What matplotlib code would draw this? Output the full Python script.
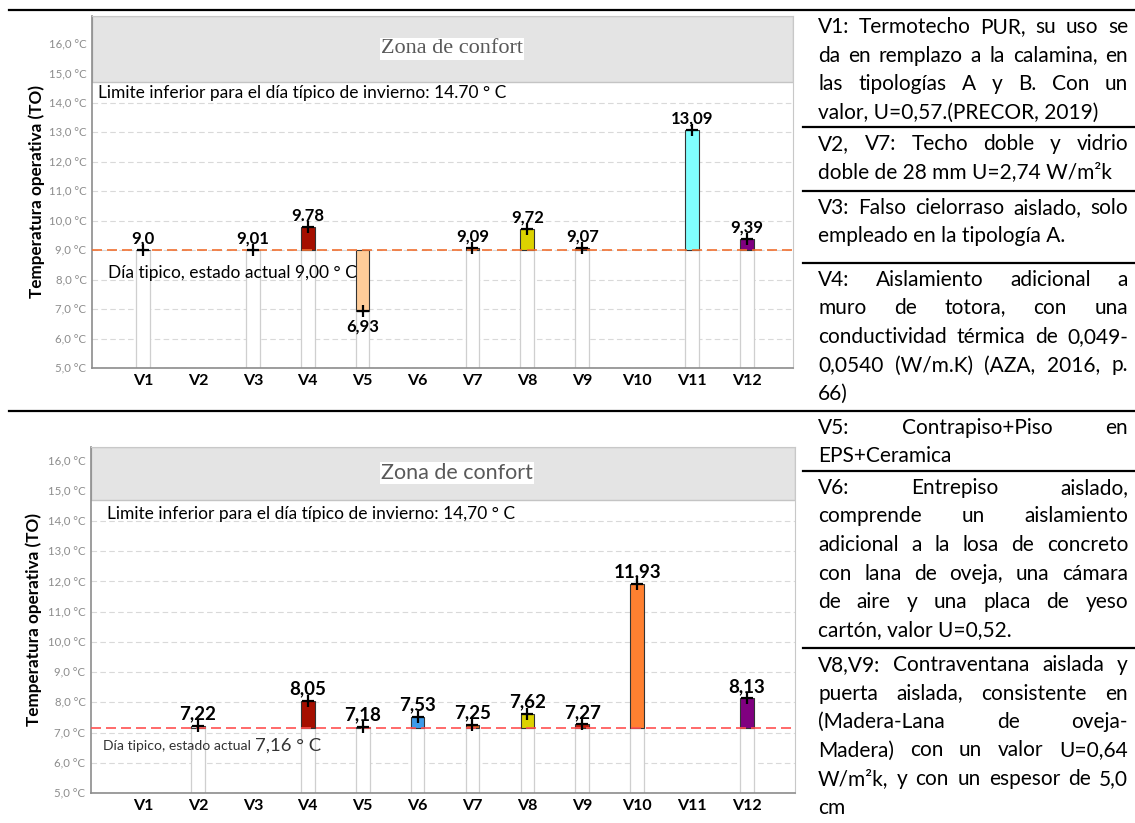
import numpy as np
import matplotlib
matplotlib.use("Agg")
import matplotlib.pyplot as plt
from matplotlib.lines import Line2D
from matplotlib.ticker import FuncFormatter
import matplotlib.transforms as mtransforms

plt.rcParams['font.family'] = ['Lato', 'DejaVu Sans']

W, H = 1135, 823
nan = np.nan

# data
cats = ['V1', 'V2', 'V3', 'V4', 'V5', 'V6', 'V7', 'V8', 'V9', 'V10', 'V11', 'V12']
top_vals = [9.0, nan, 9.01, 9.78, 6.93, nan, 9.09, 9.72, 9.07, nan, 13.09, 9.39]
top_text = ['9,0', '', '9,01', '9.78', '6,93', '', '9,09', '9,72', '9,07', '', '13,09', '9,39']
top_base = 9.0
bot_vals = [nan, 7.22, nan, 8.05, 7.18, 7.53, 7.25, 7.62, 7.27, 11.93, nan, 8.13]
bot_text = ['', '7,22', '', '8,05', '7,18', '7,53', '7,25', '7,62', '7,27', '11,93', '', '8,13']
bot_base = 7.16
comfort = 14.7
yticks = list(range(5, 17))

top_colors = ['#ffffff', 'none', '#ffffff', '#a50f00', '#ffcc99', 'none', '#e0601a',
              '#dcd200', '#b83010', 'none', '#80ffff', '#800080']
bot_colors = ['none', '#ffffff', 'none', '#a50f00', '#ffffff', '#3d9be9', '#d06020',
              '#dcd200', '#c02010', '#ff8030', 'none', '#800080']

notes = [
    ["V1: Termotecho PUR, su uso se", "da en remplazo a la calamina, en",
     "las tipologías A y B. Con un", "valor, U=0,57.(PRECOR, 2019)"],
    ["V2, V7: Techo doble y vidrio", "doble de 28 mm U=2,74 W/m²k"],
    ["V3: Falso cielorraso aislado, solo", "empleado en la tipología A."],
    ["V4: Aislamiento adicional a", "muro de totora, con una",
     "conductividad térmica de 0,049-", "0,0540 (W/m.K) (AZA, 2016, p.", "66)"],
    ["V5: Contrapiso+Piso en", "EPS+Ceramica"],
    ["V6: Entrepiso aislado,", "comprende un aislamiento",
     "adicional a la losa de concreto", "con lana de oveja, una cámara",
     "de aire y una placa de yeso", "cartón, valor U=0,52."],
    ["V8,V9: Contraventana aislada y", "puerta aislada, consistente en",
     "(Madera-Lana de oveja-", "Madera) con un valor U=0,64",
     "W/m²k, y con un espesor de 5,0", "cm"],
]
rules = [10, 127, 191, 263, 411, 471, 648]


def px_axes(x0, y0, x1, y1):
    return fig.add_axes([x0 / W, 1 - y1 / H, (x1 - x0) / W, (y1 - y0) / H])


def draw_chart(ax, vals, texts, colors, base, ylim, xlim, line_color, lab_size):
    x = np.arange(len(cats))
    v = np.array(vals)
    ok = ~np.isnan(v)
    ax.axhspan(comfort, ylim[1], facecolor='#e4e4e4', edgecolor='#c4c4c4', lw=1, zorder=1)
    low = np.minimum(v[ok], base)
    ax.bar(x[ok], low - ylim[0], bottom=ylim[0], width=0.25, color='white',
           edgecolor='#cfcfcf', lw=0.9, zorder=2)
    ax.bar(x[ok], v[ok] - base, bottom=base, width=0.25,
           color=[c for c, o in zip(colors, ok) if o], edgecolor='#333333', lw=0.8, zorder=3)
    ax.axhline(base, color=line_color, ls=(0, (6, 3)), lw=1.2, zorder=4)
    ax.plot(x[ok], v[ok], ls='none', marker='+', ms=8, mew=1.6, color='black', zorder=5)
    for xi, vi, t in zip(x, v, texts):
        if np.isnan(vi):
            continue
        if vi < base:
            ax.annotate(t, (xi, vi), xytext=(0, -5), textcoords='offset points',
                        ha='center', va='top', fontsize=lab_size, fontweight='bold', zorder=6)
        else:
            ax.annotate(t, (xi, vi), xytext=(0, 2.5), textcoords='offset points',
                        ha='center', va='bottom', fontsize=lab_size, fontweight='bold', zorder=6)
    ax.set_xlim(*xlim)
    ax.set_ylim(*ylim)
    ax.set_xticks(x)
    ax.set_xticklabels(cats, fontsize=11.5, fontweight='bold')
    ax.set_yticks([t for t in yticks if ylim[0] <= t <= ylim[1]])
    ax.yaxis.set_major_formatter(FuncFormatter(lambda t, p: f"{t:.1f}".replace('.', ',') + " °C"))
    ax.tick_params(axis='y', length=0, labelsize=8.2, labelcolor='#8c8c8c', pad=4)
    ax.tick_params(axis='x', length=0, pad=4)
    ax.grid(axis='y', color='#d9d9d9', ls=(0, (5, 3)), lw=0.8)
    ax.set_axisbelow(True)
    for s in ['left', 'bottom']:
        ax.spines[s].set_color('#8c8c8c')
        ax.spines[s].set_linewidth(1.2)
    for s in ['top', 'right']:
        ax.spines[s].set_color('#c8c8c8')
    ax.set_ylabel("Temperatura operativa (TO)", fontsize=12.3, fontweight='bold')


fig = plt.figure(figsize=(W / 100, H / 100), dpi=100)

ax1 = px_axes(92, 16, 793, 368)
draw_chart(ax1, top_vals, top_text, top_colors, top_base, (5.0, 16.95), (-0.93, 11.84),
           '#f07030', 12)
ax1.yaxis.set_label_coords(-0.067, 0.5)
tr1 = mtransforms.blended_transform_factory(ax1.transAxes, ax1.transData)
ax1.text(0.009, 14.33, "Limite inferior para el día típico de invierno: 14.70 ° C",
         transform=tr1, fontsize=12.5, va='center', zorder=6)
ax1.text(0.023, 8.22, "Día tipico, estado actual 9,00 ° C",
         transform=tr1, fontsize=12.5, va='center', zorder=6)
ax1.text(0.5136, 15.83, "Zona de confort", transform=tr1, family='Liberation Serif',
         fontsize=16, color='#595959', ha='center', va='center', zorder=6,
         bbox=dict(boxstyle='square,pad=0.05', fc='white', ec='none'))

ax2 = px_axes(91, 447, 795, 793)
draw_chart(ax2, bot_vals, bot_text, bot_colors, bot_base, (5.0, 16.45), (-0.947, 11.874),
           '#ff5050', 13.5)
ax2.yaxis.set_label_coords(-0.0696, 0.5)
tr2 = mtransforms.blended_transform_factory(ax2.transAxes, ax2.transData)
ax2.text(0.0227, 14.24, "Limite inferior para el día típico de invierno: 14,70 ° C",
         transform=tr2, fontsize=12.5, va='center', zorder=6)
t1 = ax2.text(0.017, 6.56, "Día tipico, estado actual", transform=tr2,
              fontsize=10.1, color='#333333', va='center', zorder=6)
ax2.annotate("7,16 ° C", xy=(1, 0.5), xycoords=t1, xytext=(3, 0), textcoords='offset points',
             fontsize=13.3, color='#333333', va='center', zorder=6)
ax2.text(0.52, 15.6, "Zona de confort", transform=tr2, fontsize=15.5, color='#595959',
         ha='center', va='center', zorder=6,
         bbox=dict(boxstyle='square,pad=0.05', fc='white', ec='none'))

# table rules
for y in rules:
    x0 = 9 if y in (10, 411) else 803
    fig.add_artist(Line2D([x0 / W, 1], [1 - y / H, 1 - y / H], color='black', lw=1.6))

# justified notes column
renderer = fig.canvas.get_renderer()
tx0, tx1, step = 818, 1128, 28.5


def width_of(s, size):
    t = fig.text(0, 0, s, fontsize=size)
    w = t.get_window_extent(renderer).width
    t.remove()
    return w


size = 15
widest = max(width_of(l, size) for para in notes for l in para[:-1])
if widest > tx1 - tx0:
    size = size * (tx1 - tx0) / widest * 0.99

for para, r in zip(notes, rules):
    for i, line in enumerate(para):
        y = 1 - (r + 17 + i * step) / H
        words = line.split()
        if i == len(para) - 1 or len(words) == 1:
            fig.text(tx0 / W, y, line, fontsize=size, va='center')
            continue
        arts = [fig.text(0, y, w, fontsize=size, va='center') for w in words]
        ws = [a.get_window_extent(renderer).width for a in arts]
        gap = (tx1 - tx0 - sum(ws)) / (len(words) - 1)
        xp = tx0
        for a, wd in zip(arts, ws):
            a.set_x(xp / W)
            xp += wd + gap

fig.savefig("out.png", dpi=100)
